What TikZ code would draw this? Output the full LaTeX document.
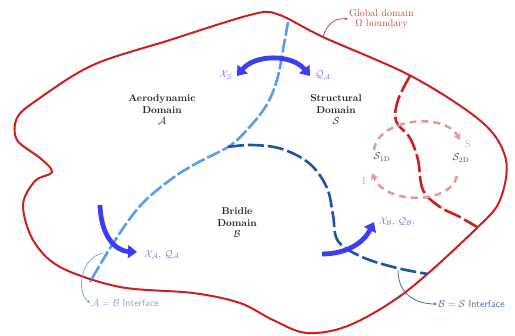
\documentclass[tikz,border=0pt]{standalone}
\usepackage{amsmath}
\usetikzlibrary{arrows.meta}
\definecolor{bndred}{HTML}{CC1F1F}
\definecolor{lightint}{HTML}{5A9EEA}
\definecolor{darkint}{HTML}{1F52A8}
\definecolor{loopred}{HTML}{E59A9A}
\definecolor{xferblue}{HTML}{3D3DF2}
\definecolor{xferlbl}{HTML}{7A72E6}
\definecolor{ablbl}{HTML}{7DA6DE}
\definecolor{bslbl}{HTML}{4C6AA8}
\definecolor{glbl}{HTML}{C44848}
\begin{document}
\begin{tikzpicture}[x=1pt,y=-1pt,
  domlbl/.style={align=center,font=\bfseries,text=black!85,inner sep=0pt},
  xfer/.style={line width=4.8pt,xferblue,-{Triangle[length=9pt,width=13pt]}},
  xferlabel/.style={text=xferlbl,inner sep=1pt},
  callout/.style={line width=0.8pt,-{Stealth[length=3.5pt,width=3pt]}},
  loopline/.style={loopred,line width=2.6pt,dash pattern=on 7pt off 5pt,-{Stealth[length=7pt,width=8pt]}}]
\useasboundingbox (0,0) rectangle (515,336);
% global domain boundary
\draw[bndred,line width=2pt] plot[smooth cycle,tension=0.55] coordinates {
  (277,14) (323,37) (413,77) (483,123) (506,160) (500,200) (478,227)
  (407,291) (350,325) (307,333) (273,320) (240,303) (193,293) (120,287)
  (60,267) (33,240) (23,205) (35,181) (52,172) (40,158) (17,140) (17,118)
  (37,100) (93,65) (170,40) (250,15)};
\coordinate (jn) at (228,147);
% interfaces
\draw[lightint,line width=2.6pt,dash pattern=on 14pt off 3pt] plot[smooth,tension=0.6] coordinates {
  (288,22) (283,50) (277,80) (266,106) (246,131) (jn) (197,163) (170,180)
  (140,206) (114,242) (90,282)};
\draw[darkint,line width=2.6pt,dash pattern=on 16pt off 4pt] plot[smooth,tension=0.6] coordinates {
  (jn) (252,145) (282,149) (310,164) (327,188) (333,215) (338,241) (362,257)
  (397,268) (428,274)};
\draw[bndred,line width=2.6pt,dash pattern=on 18pt off 4pt] plot[smooth,tension=0.6] coordinates {
  (410,76) (398,100) (396,121) (410,138) (418,160) (423,190) (440,207)
  (458,216) (477,227)};
% S1D / S2D loop
\draw[loopline] (374,150) .. controls (378,118) and (445,112) .. (460,140);
\draw[loopline] (457,176) .. controls (450,205) and (385,205) .. (372,173);
\node[text=loopred] (sl) at (468,144) {S};
\node[text=loopred] (il) at (364,181) {I};
\node[text=black!70] (s1) at (382,157) {$\mathcal{S}_{\mathrm{1D}}$};
\node[text=black!70] (s2) at (461,158) {$\mathcal{S}_{\mathrm{2D}}$};
% domain names
\node[domlbl] (aero) at (162,110) {Aerodynamic\\Domain\\[-1pt]\mdseries$\mathcal{A}$};
\node[domlbl] (struct) at (336,110) {Structural\\Domain\\[-1pt]\mdseries$\mathcal{S}$};
\node[domlbl] (bridle) at (237,223) {Bridle\\Domain\\[-1pt]\mdseries$\mathcal{B}$};
% transfer arrows
\draw[xfer,{Triangle[length=9pt,width=13pt]}-{Triangle[length=9pt,width=13pt]}] (237,76) .. controls (255,54) and (292,54) .. (310,76);
\draw[xfer] (100,205) .. controls (101,237) and (116,251) .. (137,252);
\draw[xfer] (322,254) .. controls (345,254) and (363,244) .. (374,222);
\node[xferlabel] (xs) at (226,75) {$\mathcal{X}_\mathcal{S}$};
\node[xferlabel] (qa) at (323,75) {$\mathcal{Q}_\mathcal{A}$};
\node[xferlabel] (xqa) at (162,255) {$\mathcal{X}_\mathcal{A}$, $\mathcal{Q}_\mathcal{A}$};
\node[xferlabel] (xqb) at (397,222) {$\mathcal{X}_\mathcal{B}$, $\mathcal{Q}_\mathcal{B}$,};
% callouts
\node[anchor=west,text=glbl,align=center,inner sep=1pt] (glob) at (348,19) {Global domain\\[-2pt]$\Omega$ boundary};
\node[anchor=west,text=ablbl,inner sep=1pt] (abi) at (90,303) {$\mathcal{A}=\mathcal{B}$ \textsf{Interface}};
\node[anchor=west,text=bslbl,inner sep=1pt] (bsi) at (437,304) {$\mathcal{B}=\mathcal{S}$ \textsf{Interface}};
\coordinate (gpt) at (323,37);
\coordinate (apt) at (103,253);
\coordinate (bpt) at (398,270);
\draw[callout,glbl] (gpt) .. controls (327,24) and (334,18) .. (glob.west);
\draw[callout,ablbl] (apt) .. controls (80,258) and (76,292) .. (abi.west);
\draw[callout,bslbl] (bpt) .. controls (398,296) and (418,304) .. (bsi.west);
\end{tikzpicture}
\end{document}
